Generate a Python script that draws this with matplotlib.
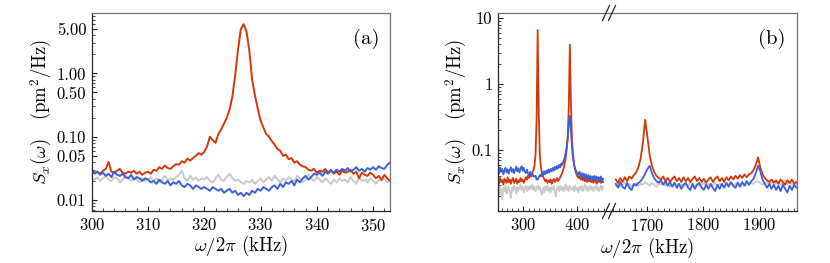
import numpy as np
import matplotlib
matplotlib.use('Agg')
import matplotlib.pyplot as plt
from matplotlib.ticker import FixedLocator, FixedFormatter, MultipleLocator, LogLocator, NullFormatter
from matplotlib.lines import Line2D

plt.rcParams['font.family'] = 'serif'
plt.rcParams['font.serif'] = ['cmr10', 'DejaVu Serif']
plt.rcParams['mathtext.fontset'] = 'cm'
plt.rcParams['axes.formatter.use_mathtext'] = True

RED = '#d2380a'
BLUE = '#3f5fd6'
GRAY = '#c9c9c9'

# ---------------- panel (a) data ----------------
freq_a = np.arange(300.0, 353.01, 0.5)
red_a = [
    0.029, 0.027, 0.028, 0.026, 0.029, 0.031, 0.040, 0.028, 0.027, 0.029,
    0.031, 0.027, 0.026, 0.028, 0.027, 0.029, 0.026, 0.028, 0.025, 0.027,
    0.028, 0.026, 0.030, 0.029, 0.033, 0.031, 0.035, 0.032, 0.031, 0.034,
    0.037, 0.036, 0.041, 0.039, 0.045, 0.042, 0.046, 0.050, 0.055, 0.052,
    0.058, 0.070, 0.100, 0.088, 0.080, 0.110, 0.130, 0.160, 0.200, 0.270,
    0.430, 0.95, 2.4, 5.0, 6.0, 4.6, 2.3, 0.80, 0.45, 0.28,
    0.18, 0.14, 0.11, 0.10, 0.085, 0.075, 0.064, 0.060, 0.050, 0.052,
    0.044, 0.046, 0.039, 0.041, 0.036, 0.034, 0.033, 0.030, 0.029, 0.031,
    0.027, 0.029, 0.028, 0.031, 0.027, 0.030, 0.026, 0.028, 0.025, 0.029,
    0.027, 0.028, 0.030, 0.026, 0.028, 0.022, 0.027, 0.025, 0.024, 0.027,
    0.025, 0.022, 0.024, 0.021, 0.025, 0.022, 0.020,
]
gray_a = [
    0.022, 0.021, 0.023, 0.020, 0.022, 0.024, 0.021, 0.020, 0.023, 0.022,
    0.019, 0.021, 0.024, 0.022, 0.020, 0.023, 0.021, 0.019, 0.022, 0.020,
    0.021, 0.023, 0.020, 0.022, 0.019, 0.021, 0.024, 0.020, 0.022, 0.021,
    0.023, 0.025, 0.029, 0.022, 0.020, 0.024, 0.021, 0.023, 0.020, 0.022,
    0.021, 0.023, 0.020, 0.019, 0.022, 0.025, 0.021, 0.020, 0.023, 0.026,
    0.022, 0.020, 0.021, 0.019, 0.018, 0.020, 0.019, 0.021, 0.018, 0.020,
    0.022, 0.019, 0.021, 0.023, 0.020, 0.024, 0.021, 0.019, 0.022, 0.020,
    0.023, 0.021, 0.020, 0.024, 0.022, 0.019, 0.021, 0.025, 0.022, 0.020,
    0.023, 0.021, 0.019, 0.022, 0.020, 0.018, 0.021, 0.019, 0.022, 0.020,
    0.021, 0.019, 0.023, 0.020, 0.018, 0.022, 0.020, 0.021, 0.019, 0.022,
    0.020, 0.018, 0.021, 0.020, 0.022, 0.019, 0.021,
]
blue_a = [
    0.029, 0.026, 0.028, 0.025, 0.027, 0.024, 0.026, 0.023, 0.028, 0.025,
    0.024, 0.026, 0.023, 0.022, 0.025, 0.021, 0.023, 0.022, 0.020, 0.022,
    0.021, 0.019, 0.020, 0.018, 0.021, 0.019, 0.018, 0.020, 0.017, 0.019,
    0.018, 0.020, 0.017, 0.016, 0.018, 0.017, 0.015, 0.017, 0.016, 0.015,
    0.016, 0.015, 0.014, 0.016, 0.015, 0.014, 0.015, 0.013, 0.014, 0.015,
    0.013, 0.014, 0.012, 0.013, 0.0115, 0.013, 0.012, 0.014, 0.013, 0.015,
    0.014, 0.016, 0.015, 0.014, 0.016, 0.017, 0.015, 0.018, 0.016, 0.019,
    0.018, 0.020, 0.017, 0.021, 0.019, 0.022, 0.024, 0.021, 0.023, 0.026,
    0.025, 0.027, 0.024, 0.028, 0.026, 0.029, 0.027, 0.030, 0.028, 0.031,
    0.029, 0.032, 0.028, 0.030, 0.033, 0.029, 0.031, 0.028, 0.032, 0.030,
    0.033, 0.030, 0.034, 0.032, 0.031, 0.036, 0.039,
]
ticks_a = [0.01, 0.05, 0.1, 0.5, 1.0, 5.0]
ticklabels_a = ['0.01', '0.05', '0.10', '0.50', '1.00', '5.00']

# ---------------- panel (b) data ----------------
freq_b_low = np.arange(253.0, 450.0, 2.0)
red_b_low = [
    0.036, 0.031, 0.038, 0.033, 0.035, 0.030, 0.037, 0.034, 0.032, 0.039,
    0.033, 0.036, 0.031, 0.035, 0.038, 0.032, 0.034, 0.037, 0.031, 0.035,
    0.033, 0.038, 0.034, 0.036, 0.032, 0.035, 0.039, 0.036, 0.041, 0.038,
    0.044, 0.040, 0.046, 0.050, 0.058, 0.085, 0.30, 6.6, 0.35, 0.085,
    0.055, 0.045, 0.040, 0.037, 0.034, 0.036, 0.032, 0.035, 0.033, 0.036,
    0.031, 0.034, 0.037, 0.033, 0.035, 0.038, 0.034, 0.036, 0.039, 0.042,
    0.046, 0.052, 0.060, 0.075, 0.10, 0.16, 0.45, 4.0, 0.50, 0.14,
    0.085, 0.060, 0.050, 0.044, 0.040, 0.038, 0.041, 0.036, 0.039, 0.035,
    0.038, 0.034, 0.037, 0.033, 0.036, 0.034, 0.038, 0.033, 0.035, 0.032,
    0.036, 0.034, 0.031, 0.035, 0.033, 0.036, 0.032, 0.034, 0.033,
]
blue_b_low = [
    0.050, 0.044, 0.055, 0.047, 0.052, 0.043, 0.049, 0.054, 0.046, 0.051,
    0.044, 0.050, 0.055, 0.047, 0.052, 0.045, 0.050, 0.056, 0.048, 0.053,
    0.046, 0.052, 0.057, 0.049, 0.054, 0.047, 0.045, 0.051, 0.044, 0.043,
    0.047, 0.041, 0.045, 0.040, 0.040, 0.041, 0.036, 0.036, 0.039, 0.042,
    0.040, 0.046, 0.042, 0.048, 0.043, 0.049, 0.045, 0.051, 0.046, 0.052,
    0.048, 0.054, 0.049, 0.056, 0.051, 0.058, 0.053, 0.060, 0.055, 0.063,
    0.060, 0.068, 0.075, 0.090, 0.11, 0.15, 0.24, 0.33, 0.20, 0.11,
    0.075, 0.060, 0.052, 0.048, 0.044, 0.043, 0.047, 0.040, 0.045, 0.039,
    0.044, 0.038, 0.043, 0.037, 0.042, 0.036, 0.041, 0.035, 0.040, 0.036,
    0.041, 0.035, 0.040, 0.034, 0.039, 0.035, 0.040, 0.034, 0.037,
]
gray_b_low = [
    0.026, 0.021, 0.028, 0.023, 0.018, 0.027, 0.024, 0.029, 0.022, 0.026,
    0.028, 0.023, 0.019, 0.027, 0.024, 0.029, 0.026, 0.022, 0.028, 0.024,
    0.027, 0.030, 0.025, 0.028, 0.023, 0.027, 0.029, 0.024, 0.028, 0.025,
    0.029, 0.026, 0.030, 0.025, 0.028, 0.024, 0.027, 0.029, 0.025, 0.028,
    0.024, 0.021, 0.027, 0.023, 0.028, 0.025, 0.029, 0.024, 0.027, 0.023,
    0.028, 0.025, 0.029, 0.024, 0.020, 0.027, 0.028, 0.024, 0.029, 0.025,
    0.028, 0.024, 0.027, 0.030, 0.025, 0.028, 0.024, 0.029, 0.026, 0.025,
    0.028, 0.024, 0.029, 0.025, 0.027, 0.023, 0.028, 0.025, 0.029, 0.024,
    0.027, 0.030, 0.025, 0.028, 0.024, 0.027, 0.029, 0.025, 0.028, 0.024,
    0.027, 0.029, 0.025, 0.028, 0.024, 0.027, 0.029, 0.025, 0.028,
]

freq_b_high = np.arange(1645.0, 1966.0, 4.0)
red_b_high = [
    0.036, 0.032, 0.038, 0.033, 0.039, 0.034, 0.040, 0.037, 0.042, 0.046,
    0.055, 0.075, 0.13, 0.29, 0.16, 0.085, 0.058, 0.047, 0.041, 0.038,
    0.036, 0.040, 0.034, 0.038, 0.033, 0.037, 0.040, 0.034, 0.038, 0.033,
    0.039, 0.034, 0.038, 0.033, 0.037, 0.040, 0.034, 0.038, 0.033, 0.037,
    0.032, 0.036, 0.039, 0.033, 0.037, 0.040, 0.034, 0.038, 0.033, 0.039,
    0.035, 0.040, 0.036, 0.041, 0.037, 0.042, 0.038, 0.043, 0.039, 0.043,
    0.045, 0.050, 0.060, 0.078, 0.055, 0.043, 0.038, 0.035, 0.033, 0.036,
    0.032, 0.035, 0.031, 0.036, 0.033, 0.030, 0.035, 0.032, 0.036, 0.031,
    0.033,
]
blue_b_high = [
    0.031, 0.027, 0.033, 0.028, 0.026, 0.032, 0.027, 0.025, 0.031, 0.029,
    0.032, 0.034, 0.038, 0.044, 0.052, 0.058, 0.045, 0.038, 0.034, 0.032,
    0.035, 0.030, 0.034, 0.029, 0.033, 0.028, 0.032, 0.027, 0.031, 0.026,
    0.030, 0.032, 0.027, 0.025, 0.031, 0.026, 0.030, 0.032, 0.027, 0.025,
    0.030, 0.026, 0.031, 0.027, 0.024, 0.030, 0.026, 0.031, 0.027, 0.032,
    0.028, 0.033, 0.029, 0.027, 0.032, 0.028, 0.033, 0.029, 0.034, 0.030,
    0.034, 0.037, 0.045, 0.058, 0.048, 0.036, 0.031, 0.027, 0.031, 0.026,
    0.030, 0.025, 0.029, 0.024, 0.030, 0.026, 0.023, 0.029, 0.025, 0.030,
    0.027,
]
gray_b_high = [
    0.029, 0.031, 0.028, 0.030, 0.032, 0.029, 0.031, 0.028, 0.030, 0.032,
    0.029, 0.031, 0.030, 0.033, 0.031, 0.029, 0.032, 0.030, 0.028, 0.031,
    0.030, 0.032, 0.029, 0.031, 0.028, 0.030, 0.032, 0.029, 0.031, 0.030,
    0.028, 0.031, 0.029, 0.032, 0.030, 0.028, 0.031, 0.029, 0.030, 0.032,
    0.029, 0.031, 0.028, 0.030, 0.032, 0.029, 0.031, 0.030, 0.028, 0.031,
    0.030, 0.032, 0.029, 0.031, 0.033, 0.030, 0.032, 0.029, 0.031, 0.030,
    0.032, 0.031, 0.033, 0.034, 0.032, 0.030, 0.031, 0.033, 0.030, 0.032,
    0.034, 0.031, 0.033, 0.030, 0.032, 0.035, 0.031, 0.033, 0.030, 0.032,
    0.031,
]
ticks_b_y = [0.1, 1, 10]
ticklabels_b_y = ['0.1', '1', '10']
ticks_b_low = [300, 400]
ticks_b_high = [1700, 1800, 1900]

# ---------------- figure ----------------
W, H = 830, 263
fig = plt.figure(figsize=(W / 100, H / 100), dpi=100)

def px(l, r, t, b):
    return [l / W, 1 - b / H, (r - l) / W, (b - t) / H]

ax_a = fig.add_axes(px(91.7, 390, 13, 211))
axL = fig.add_axes(px(498, 609, 13, 211))
axR = fig.add_axes(px(609, 797, 13, 211), sharey=axL)

FS = 12
LFS = 13.5
YLABEL = r'$S_x(\omega)$   (pm$^2$/Hz)'
XLABEL = r'$\omega/2\pi$ (kHz)'

def style(ax):
    for side in ['left', 'bottom']:
        ax.spines[side].set_color('0.15')
    for side in ['top', 'right']:
        ax.spines[side].set_color('0.45')
    for s in ax.spines.values():
        s.set_linewidth(0.9)
    ax.tick_params(which='both', direction='in', top=False, right=False,
                   labelsize=FS, color='0.15', pad=4)
    ax.tick_params(which='major', length=3.5, width=0.8)
    ax.tick_params(which='minor', length=2.0, width=0.6)

# panel (a)
ax_a.plot(freq_a, gray_a, color=GRAY, lw=1.4)
ax_a.plot(freq_a, red_a, color=RED, lw=1.4)
ax_a.plot(freq_a, blue_a, color=BLUE, lw=1.4)
ax_a.set_yscale('log')
ax_a.set_xlim(300, 353)
ax_a.set_ylim(0.0067, 9.0)
ax_a.yaxis.set_major_locator(FixedLocator(ticks_a))
ax_a.yaxis.set_major_formatter(FixedFormatter(ticklabels_a))
ax_a.yaxis.set_minor_locator(LogLocator(base=10, subs=np.arange(2, 10)))
ax_a.yaxis.set_minor_formatter(NullFormatter())
ax_a.xaxis.set_major_locator(MultipleLocator(10))
ax_a.xaxis.set_minor_locator(MultipleLocator(2))
style(ax_a)
ax_a.set_xlabel(XLABEL, fontsize=LFS, labelpad=0)
ax_a.set_ylabel(YLABEL, fontsize=LFS, labelpad=2)
ax_a.text(0.965, 0.87, '(a)', transform=ax_a.transAxes, ha='right', va='center',
          fontsize=15)

# panel (b)
for ax, fx, g, r, b in [(axL, freq_b_low, gray_b_low, red_b_low, blue_b_low),
                        (axR, freq_b_high, gray_b_high, red_b_high, blue_b_high)]:
    ax.plot(fx, g, color=GRAY, lw=1.3)
    ax.plot(fx, r, color=RED, lw=1.3)
    ax.plot(fx, b, color=BLUE, lw=1.3)
    ax.set_yscale('log')
    style(ax)

axL.set_ylim(0.012, 12)
axL.set_xlim(253, 460)
axR.set_xlim(1633, 1966)
axL.yaxis.set_major_locator(FixedLocator(ticks_b_y))
axL.yaxis.set_major_formatter(FixedFormatter(ticklabels_b_y))
axL.yaxis.set_minor_locator(LogLocator(base=10, subs=np.arange(2, 10)))
axL.yaxis.set_minor_formatter(NullFormatter())
axL.xaxis.set_major_locator(FixedLocator(ticks_b_low))
axL.xaxis.set_minor_locator(MultipleLocator(10))
axR.xaxis.set_major_locator(FixedLocator(ticks_b_high))
axR.xaxis.set_minor_locator(MultipleLocator(10))
axL.spines['right'].set_visible(False)
axR.spines['left'].set_visible(False)
axR.tick_params(axis='y', which='both', left=False, labelleft=False)
axL.set_ylabel(YLABEL, fontsize=LFS, labelpad=2)
axR.text(0.94, 0.87, '(b)', transform=axR.transAxes, ha='right', va='center',
         fontsize=15)
fig.text(647.5 / W, 1 - 248 / H, XLABEL, ha='center', va='center',
         fontsize=LFS)

# break marks
for yc in (13, 211):
    for xc in (606, 612):
        fig.add_artist(Line2D([(xc - 3.5) / W, (xc + 3.5) / W],
                              [1 - (yc + 7.5) / H, 1 - (yc - 7.5) / H],
                              color='0.15', lw=0.9, transform=fig.transFigure))

fig.savefig('out.png', dpi=100)
